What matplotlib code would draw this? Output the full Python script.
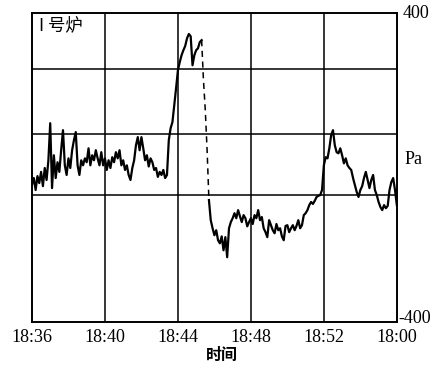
import numpy as np
import matplotlib
matplotlib.use("Agg")
import matplotlib.pyplot as plt

# minutes after 18:36, one reading every 0.1 min
minutes = np.linspace(0, 20, 201)
pressure = [
    -45, -27, -58, -22, -40, -11, -48, -1, -32, 19,
    115, -53, 32, -27, 14, -11, 45, 97, 6, -19,
    24, -1, 45, 71, 92, 6, -19, 19, 6, 24,
    14, 50, 6, 32, 19, 45, 24, 6, 40, 6,
    24, -6, 19, -1, 27, 14, 40, 24, 45, 6,
    19, -6, 6, -19, -32, -1, 19, 58, 79, 45,
    79, 50, 19, 32, 3, 24, 14, -6, -1, -24,
    -11, -19, -6, -27, -19, 71, 102, 118, 162, 206,
    252, 273, 291, 304, 315, 335, 346, 340, 265, 291,
    304, 309, 325, 330, 227, 149, 45, -84, -136, -157,
    -175, -162, -188, -196, -178, -214, -180, -232, -157, -141,
    -131, -118, -131, -110, -126, -141, -123, -131, -152, -141,
    -131, -146, -123, -131, -110, -136, -128, -157, -167, -180,
    -136, -149, -162, -170, -146, -162, -157, -178, -188, -151,
    -149, -167, -157, -149, -162, -151, -136, -157, -149, -123,
    -118, -110, -97, -89, -94, -86, -76, -73, -71, -58,
    6, 27, 24, 50, 84, 97, 58, 40, 37, 50,
    32, 11, 24, 6, -1, -6, -27, -45, -63, -76,
    -58, -48, -27, -11, -32, -53, -32, -19, -58, -71,
    -89, -102, -110, -97, -105, -99, -58, -37, -27, -58,
    -97,
]
pressure = np.array(pressure)

time_ticks = [0, 4, 8, 12, 16, 20]
time_labels = ["18:36", "18:40", "18:44", "18:48", "18:52", "18:00"]
grid_levels = [255, 87, -71]

fig = plt.figure(figsize=(4.38, 3.75), dpi=100)
ax = fig.add_axes([0.073, 0.141, 0.833, 0.824])

# fast drop after the peak shows up broken on the chart paper
ax.plot(minutes[:94], pressure[:94], color="black", lw=1.6)
ax.plot(minutes[93:98], pressure[93:98], color="black", lw=1.1, ls=(0, (4, 3)))
ax.plot(minutes[97:], pressure[97:], color="black", lw=1.6)

for t in time_ticks[1:-1]:
    ax.axvline(t, color="black", lw=1.1)
for g in grid_levels:
    ax.axhline(g, color="black", lw=1.1)

ax.set_xlim(0, 20)
ax.set_ylim(-400, 400)
ax.set_xticks(time_ticks)
ax.set_xticklabels(time_labels, family="Liberation Serif", fontsize=13)
ax.tick_params(axis="x", length=0, pad=5)
ax.set_yticks([])
for s in ax.spines.values():
    s.set_linewidth(1.4)
    s.set_color("black")

ax.text(1.015, 1.0, "400", transform=ax.transAxes, ha="left", va="center",
        family="Liberation Serif", fontsize=13)
ax.text(1.005, 0.013, "-400", transform=ax.transAxes, ha="left", va="center",
        family="Liberation Serif", fontsize=13)
ax.text(1.02, 0.525, "Pa", transform=ax.transAxes, ha="left", va="center",
        family="Liberation Serif", fontsize=13)
ax.text(0.02, 0.96, "I 号炉", transform=ax.transAxes, ha="left", va="center",
        family=["Noto Sans CJK SC", "DejaVu Sans"], fontsize=12.5)
fig.text(0.507, 0.053, "时间", ha="center", va="center",
         family=["Noto Sans CJK SC", "DejaVu Sans"], fontsize=11.5, weight="bold")

fig.savefig("out.png", dpi=100)
